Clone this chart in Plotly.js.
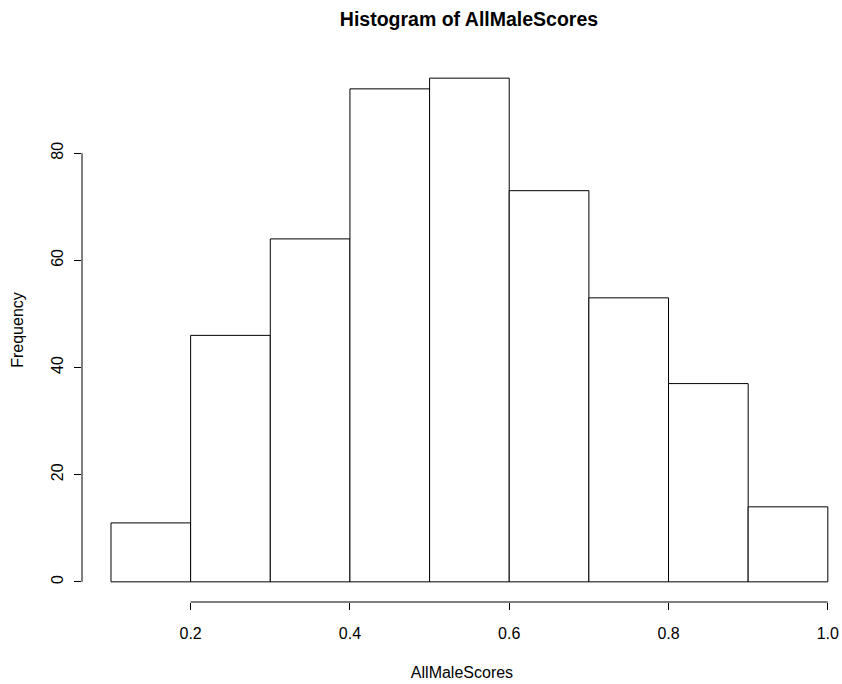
<!DOCTYPE html>
<html>
<head>
<meta charset="utf-8">
<script src="https://cdn.plot.ly/plotly-3.0.1.min.js"></script>
<style>html,body{margin:0;padding:0;background:#fff;}#chart{width:842px;height:684px;}</style>
</head>
<body>
<div id="chart"></div>
<script>
// Bin edges and counts
var binStarts = [0.1, 0.2, 0.3, 0.4, 0.5, 0.6, 0.7, 0.8, 0.9];
var binWidth = 0.1;
var counts = [11, 46, 64, 92, 94, 73, 53, 37, 14];
var xTicks = [0.2, 0.4, 0.6, 0.8, 1.0];
var xTickLabels = ["0.2", "0.4", "0.6", "0.8", "1.0"];
var yTicks = [0, 20, 40, 60, 80];
var yTickLabels = ["0", "20", "40", "60", "80"];

var centers = binStarts.map(function(s){ return s + binWidth/2; });

var font = "Liberation Sans, Arial, sans-serif";

var trace = {
  type: 'bar',
  x: centers,
  y: counts,
  width: binWidth,
  marker: {color: '#ffffff', line: {color: '#000000', width: 1}},
  hoverinfo: 'x+y'
};

var layout = {
  width: 842, height: 684,
  margin: {l: 82, r: 0, t: 58, b: 82, pad: 0},
  paper_bgcolor: '#ffffff', plot_bgcolor: '#ffffff',
  showlegend: false,
  bargap: 0,
  font: {family: font, size: 16, color: '#000000'},
  title: {text: 'Histogram of AllMaleScores', x: 469/842, xref: 'container', xanchor: 'center',
          y: 1 - 19/684, yref: 'container', yanchor: 'middle',
          font: {family: font, size: 19.5, weight: 'bold', color: '#000000'}},
  xaxis: {
    range: [0.0636, 1.0178], showgrid: false, zeroline: false, showline: false,
    tickmode: 'array', tickvals: xTicks, ticktext: xTickLabels,
    ticks: 'outside', ticklen: 7, tickcolor: '#000000', tickwidth: 1,
    ticklabelstandoff: 10,
    tickfont: {family: font, size: 16, color: '#000000'},
    title: {text: 'AllMaleScores', standoff: 25, font: {family: font, size: 16, color: '#000000'}}
  },
  yaxis: {
    range: [-3.76, 97.76], showgrid: false, zeroline: false, showline: false,
    tickmode: 'array', tickvals: yTicks, ticktext: yTickLabels, tickangle: -90,
    ticks: 'outside', ticklen: 7, tickcolor: '#000000', tickwidth: 1,
    ticklabelstandoff: 5,
    tickfont: {family: font, size: 16, color: '#000000'},
    title: {text: 'Frequency', standoff: 20, font: {family: font, size: 16, color: '#000000'}}
  },
  shapes: [
    {type: 'line', xref: 'x', yref: 'paper', x0: xTicks[0], x1: xTicks[xTicks.length-1], y0: 0, y1: 0,
     line: {color: '#000000', width: 1}},
    {type: 'line', xref: 'paper', yref: 'y', x0: 0, x1: 0, y0: yTicks[0], y1: yTicks[yTicks.length-1],
     line: {color: '#000000', width: 1}}
  ]
};

Plotly.newPlot('chart', [trace], layout, {displayModeBar: false, staticPlot: true});
</script>
</body>
</html>
